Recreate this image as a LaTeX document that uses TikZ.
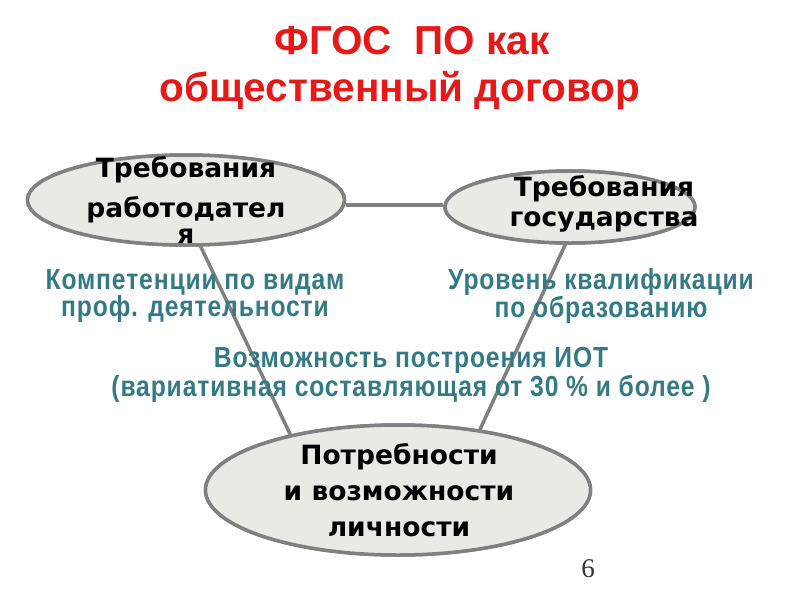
\documentclass[tikz,border=0pt]{standalone}
\usepackage{fontspec}
\setmainfont{Liberation Sans}
\newfontfamily\ellfont{DejaVu Sans}
\newfontfamily\narrowfont[FakeStretch=0.85,LetterSpace=3]{Liberation Sans}
\newfontfamily\numfont{Liberation Serif}
\usetikzlibrary{shapes.geometric}
\definecolor{titlered}{RGB}{230,25,25}
\definecolor{tealtext}{RGB}{52,122,132}
\definecolor{ellfill}{RGB}{234,234,229}
\definecolor{ellborder}{RGB}{128,128,128}
\tikzset{
  ell/.style={ellipse, draw=ellborder, line width=3.5pt, fill=ellfill, inner sep=0pt},
  elltext/.style={font=\ellfont\bfseries\fontsize{26.5}{30}\selectfont, align=center, text=black},
  link/.style={draw=ellborder, line width=3.5pt},
  tealnote/.style={font=\narrowfont\bfseries\fontsize{29}{25.5}\selectfont, text=tealtext, align=center, inner sep=0pt},
  titletext/.style={font=\bfseries\fontsize{40.5}{47}\selectfont, text=titlered, align=center}
}
\begin{document}
\begin{tikzpicture}[x=1pt,y=-1pt]
\useasboundingbox (0,0) rectangle (800,600);
% ellipses
\node[ell, minimum width=317pt, minimum height=90pt] (emp) at (186,200) {};
\node[ell, minimum width=250pt, minimum height=72pt] (gov) at (570,207) {};
\node[ell, minimum width=385pt, minimum height=130pt] (pers) at (398,490) {};
% connectors
\coordinate (empB) at (200,245);
\coordinate (persL) at (291,436);
\coordinate (govB) at (566,243);
\coordinate (persR) at (477,436);
\draw[link] (emp.east |- 0,205) -- (gov.west |- 0,205);
\draw[link] (empB) -- (persL);
\draw[link] (govB) -- (persR);
% redraw ellipses over links
\node[ell, minimum width=317pt, minimum height=90pt] (emp2) at (186,200) {};
\node[ell, minimum width=250pt, minimum height=72pt] (gov2) at (570,207) {};
\node[ell, minimum width=385pt, minimum height=130pt] (pers2) at (398,490) {};
% ellipse texts
\node[elltext] (t1a) at (186,170) {Требования};
\node[elltext] (t1b) at (186,210) {работодател};
\node[elltext] (t1c) at (186,236) {я};
\node[elltext] (t2) at (604,204) {Требования\\государства};
\node[elltext, font=\ellfont\bfseries\fontsize{26.5}{36}\selectfont] (t3) at (399,490) {Потребности\\и возможности\\личности};
% title
\node[titletext] (title) at (400,68) {\hspace*{24pt}ФГОС\ \ ПО как\\общественный договор};
% teal notes
\node[tealnote] (n1) at (195,296) {Компетенции по видам\\проф. деятельности};
\node[tealnote] (n2) at (601,296) {Уровень квалификации\\по образованию};
\node[tealnote] (n3) at (411,375) {Возможность построения ИОТ\\(вариативная составляющая от 30 \% и более )};
% page number
\node[font=\numfont\fontsize{27}{27}\selectfont, text=black!80] (pg) at (588,569) {6};
\end{tikzpicture}
\end{document}
